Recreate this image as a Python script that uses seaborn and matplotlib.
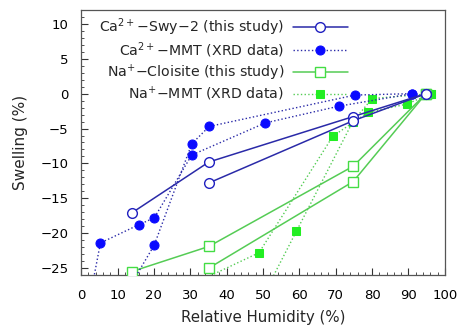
import numpy as np
import pandas as pd
import seaborn as sns
import matplotlib.pyplot as plt
from matplotlib.ticker import MultipleLocator

# Ca2+-Swy-2 (this study), two branches
swy_x1 = [13.9, 35.1, 74.7, 94.8]
swy_y1 = [-17.1, -9.8, -3.3, 0.0]
swy_x2 = [35.1, 74.7, 94.8]
swy_y2 = [-12.8, -3.9, 0.0]

# Ca2+-MMT (XRD data)
camt_x1 = [2.7, 5.3, 15.8, 20.1, 30.4, 50.6, 70.8, 91.1]
camt_y1 = [-28.5, -21.4, -18.8, -17.8, -8.8, -4.2, -1.8, 0.0]
camt_x2 = [13.0, 20.1, 30.4, 35.2, 75.3, 91.1]
camt_y2 = [-28.0, -21.7, -7.2, -4.7, -0.2, 0.0]

# Na+-Cloisite (this study)
clo_x1 = [13.9, 35.1, 74.8, 94.8]
clo_y1 = [-25.5, -21.9, -10.4, 0.0]
clo_x2 = [35.1, 74.8, 94.8]
clo_y2 = [-25.0, -12.6, 0.0]

# Na+-MMT (XRD data)
namt_x1 = [31.0, 48.9, 69.2, 78.8, 89.5, 96.3]
namt_y1 = [-27.2, -22.8, -6.1, -2.7, -1.5, 0.0]
namt_x2 = [51.5, 59.2, 74.7, 80.0, 96.3]
namt_y2 = [-27.5, -19.7, -4.0, -0.7, 0.0]

labels = ['Ca$^{2+}$\u2212Swy\u22122 (this study)',
          'Ca$^{2+}$\u2212MMT (XRD data)',
          'Na$^{+}$\u2212Cloisite (this study)',
          'Na$^{+}$\u2212MMT (XRD data)']

sns.set_style('white')
plt.rcParams['font.family'] = ['DejaVu Sans']

fig = plt.figure(figsize=(4.61, 3.31), dpi=100)
ax = fig.add_axes([0.176, 0.169, 0.789, 0.801])

blue = '#0a0aff'
navy = '#2a2aa8'
lgreen = '#55cc55'


def curve(x, y, label, **kw):
    df = pd.DataFrame({'x': x, 'y': y})
    sns.lineplot(data=df, x='x', y='y', sort=False, estimator=None,
                 ax=ax, label=label, **kw)


# Na+-MMT
kw = dict(color=lgreen, linestyle=':', linewidth=1.0, marker='s', markersize=6,
          markerfacecolor='#22ee22', markeredgecolor='#22ee22', zorder=2)
curve(namt_x1, namt_y1, labels[3], **kw)
curve(namt_x2, namt_y2, None, **kw)

# Na+-Cloisite
kw = dict(color=lgreen, linestyle='-', linewidth=1.1, marker='s', markersize=6.5,
          markerfacecolor='white', markeredgecolor='#44dd44', markeredgewidth=1.0, zorder=3)
curve(clo_x1, clo_y1, labels[2], **kw)
curve(clo_x2, clo_y2, None, **kw)

# Ca2+-MMT
kw = dict(color=navy, linestyle=':', linewidth=1.0, marker='o', markersize=6.5,
          markerfacecolor=blue, markeredgecolor=blue, zorder=4)
curve(camt_x1, camt_y1, labels[1], **kw)
curve(camt_x2, camt_y2, None, **kw)

# Ca2+-Swy-2
kw = dict(color=navy, linestyle='-', linewidth=1.1, marker='o', markersize=7,
          markerfacecolor='white', markeredgecolor='#2020c0', markeredgewidth=1.0, zorder=5)
curve(swy_x1, swy_y1, labels[0], **kw)
curve(swy_x2, swy_y2, None, **kw)

ax.set_xlim(0, 100)
ax.set_ylim(-26, 12)
ax.xaxis.set_major_locator(MultipleLocator(10))
ax.xaxis.set_minor_locator(MultipleLocator(2))
ax.yaxis.set_major_locator(MultipleLocator(5))
ax.yaxis.set_minor_locator(MultipleLocator(1))
ax.tick_params(which='both', direction='in', bottom=True, left=True,
               labelsize=9.5, colors='#333333', labelcolor='black')
ax.tick_params(which='major', length=5, width=0.8)
ax.tick_params(which='minor', length=2.5, width=0.6)
ax.tick_params(axis='x', pad=10)
ax.tick_params(axis='y', pad=9)
for s in ax.spines.values():
    s.set_color('#555555')
    s.set_linewidth(0.9)

ax.set_xlabel('Relative Humidity (%)', fontsize=10.8, labelpad=6)
ax.set_ylabel('Swelling (%)', fontsize=11, labelpad=9)

handles, labs = ax.get_legend_handles_labels()
order = [labs.index(l) for l in labels]
ax.legend([handles[i] for i in order], [labs[i] for i in order],
          loc='upper right', bbox_to_anchor=(0.757, 1.008), frameon=False,
          markerfirst=False, fontsize=10.2, handlelength=3.9,
          handletextpad=0.6, labelspacing=0.17, borderaxespad=0.2)

fig.savefig('out.png', dpi=100)
